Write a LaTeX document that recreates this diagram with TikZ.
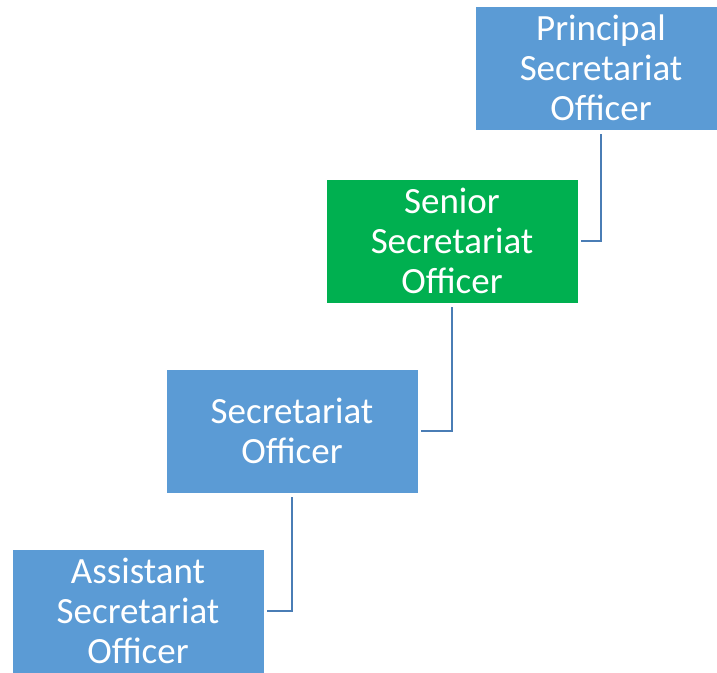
\documentclass[tikz,border=0pt]{standalone}
\usepackage{fontspec}
\setmainfont{Carlito}
\usepackage{tikz}
\usetikzlibrary{positioning}
\definecolor{boxblue}{HTML}{5B9BD5}
\definecolor{boxgreen}{HTML}{00B050}
\definecolor{linkblue}{HTML}{4A7DB5}

\begin{document}
\begin{tikzpicture} [x=1pt, y=1pt,
    rank/.style={rectangle, fill=boxblue, draw=white, line width=0.6pt,
      minimum width=252pt, minimum height=124pt, inner sep=0pt,
      text=white, align=center, font=\fontsize{37}{40}\selectfont},
    senior/.style={rank, fill=boxgreen},
    link/.style={draw=linkblue, line width=2pt} ]
    \clip (0,0) rectangle (717,672);

    \node[rank]   (psa) at (601,604) {Principal\\Secretariat\\Officer};
    \node[senior] (ssa) at (452,431) {Senior\\Secretariat\\Officer};
    \node[rank]   (sa)  at (292,241) {Secretariat\\Officer};
    \node[rank]   (asa) at (138,61)  {Assistant\\Secretariat\\Officer};

    % elbow links, each from the box centre below to the right side of the next
    \path[link]
      ([yshift=-4pt]psa.south) |- ([xshift=3pt]ssa.east)
      ([yshift=-4pt]ssa.south) |- ([xshift=3pt]sa.east)
      ([yshift=-4pt]sa.south)  |- ([xshift=3pt]asa.east)
      ;
\end{tikzpicture}
\end{document}
